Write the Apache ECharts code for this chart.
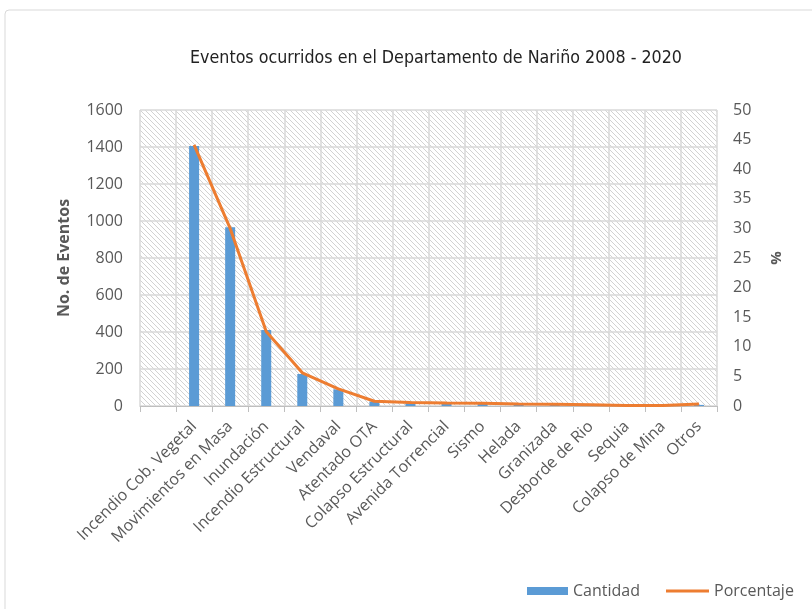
<!DOCTYPE html>
<html>
<head>
<meta charset="utf-8">
<script src="https://cdn.jsdelivr.net/npm/echarts@6/dist/echarts.min.js"></script>
<style>
html,body{margin:0;padding:0;background:#fff;}
#chart{width:812px;height:609px;}
</style>
</head>
<body>
<div id="chart"></div>
<script>
const categories = ['', 'Incendio Cob. Vegetal', 'Movimientos en Masa', 'Inundación', 'Incendio Estructural', 'Vendaval', 'Atentado OTA', 'Colapso Estructural', 'Avenida Torrencial', 'Sismo', 'Helada', 'Granizada', 'Desborde de Rio', 'Sequia', 'Colapso de Mina', 'Otros'];
const cantidad = [null, 1405, 966, 411, 173, 90, 24, 16, 14, 12, 8, 7, 5, 3, 2, 6];
const porcentaje = [null, 44.1, 30.0, 12.6, 5.6, 2.9, 0.8, 0.6, 0.5, 0.45, 0.35, 0.3, 0.2, 0.1, 0.1, 0.35];
const leftTicks = {min: 0, max: 1600, interval: 200};
const rightTicks = {min: 0, max: 50, interval: 5};

// hatch pattern for plot background
const pc = document.createElement('canvas');
pc.width = 5; pc.height = 5;
const ctx = pc.getContext('2d');
ctx.fillStyle = '#ffffff';
ctx.fillRect(0, 0, 5, 5);
ctx.strokeStyle = '#d2d2d2';
ctx.lineWidth = 1;
ctx.beginPath();
ctx.moveTo(-1, -1); ctx.lineTo(6, 6);
ctx.moveTo(-1, 4); ctx.lineTo(1, 6);
ctx.moveTo(4, -1); ctx.lineTo(6, 1);
ctx.stroke();

const chart = echarts.init(document.getElementById('chart'));
const labelColor = '#595959';
const font = '"Open Sans", sans-serif';

chart.setOption({
  animation: false,
  backgroundColor: '#fff',
  graphic: [{
    type: 'rect',
    shape: {x: 5, y: 10, width: 850, height: 640, r: 4},
    style: {fill: 'none', stroke: '#d9d9d9', lineWidth: 1},
    silent: true
  }],
  title: {
    text: 'Eventos ocurridos en el Departamento de Nariño 2008 - 2020',
    left: 431, top: 44, textAlign: 'center',
    textStyle: {fontFamily: '"DejaVu Sans Condensed", "Liberation Sans", sans-serif', fontSize: 17.7, fontWeight: 'normal', color: '#222'}
  },
  legend: [{
    left: 527, top: 583, padding: 0,
    textStyle: {fontFamily: font, fontSize: 16, color: labelColor},
    data: [{name: 'Cantidad', icon: 'rect'}],
    itemWidth: 41, itemHeight: 8
  }, {
    left: 666, top: 583, padding: 0,
    textStyle: {fontFamily: font, fontSize: 16, color: labelColor},
    data: [{name: 'Porcentaje', icon: 'rect'}],
    itemWidth: 43, itemHeight: 3
  }],
  grid: {
    left: 140, right: 95, top: 110, bottom: 203,
    show: true, borderWidth: 0,
    backgroundColor: {image: pc, repeat: 'repeat'}
  },
  xAxis: {
    type: 'category',
    data: categories,
    boundaryGap: true,
    axisLine: {lineStyle: {color: '#bfbfbf', width: 1}},
    axisTick: {show: true, length: 6, lineStyle: {color: '#bfbfbf'}},
    splitLine: {show: true, lineStyle: {color: '#d9d9d9', width: 1.5}},
    axisLabel: {interval: 0, rotate: 45, margin: 18, fontFamily: font, fontSize: 16, color: labelColor}
  },
  yAxis: [{
    type: 'value',
    min: leftTicks.min, max: leftTicks.max, interval: leftTicks.interval,
    name: 'No. de Eventos', nameLocation: 'middle', nameGap: 68, nameRotate: 90,
    nameTextStyle: {fontFamily: font, fontSize: 16, fontWeight: 'bold', color: labelColor},
    axisLine: {show: false}, axisTick: {show: false},
    splitLine: {show: true, lineStyle: {color: '#d9d9d9', width: 1.5}},
    axisLabel: {fontFamily: font, fontSize: 16, color: labelColor, margin: 17, formatter: v => String(v)}
  }, {
    type: 'value',
    min: rightTicks.min, max: rightTicks.max, interval: rightTicks.interval,
    name: '%', nameLocation: 'middle', nameGap: 52, nameRotate: 90,
    nameTextStyle: {fontFamily: font, fontSize: 15, fontWeight: 'bold', color: labelColor},
    axisLine: {show: false}, axisTick: {show: false},
    splitLine: {show: false},
    axisLabel: {fontFamily: font, fontSize: 16, color: labelColor, margin: 16}
  }],
  series: [{
    name: 'Cantidad', type: 'bar', data: cantidad, barWidth: 10,
    itemStyle: {color: '#5B9BD5'}, yAxisIndex: 0
  }, {
    name: 'Porcentaje', type: 'line', data: porcentaje, yAxisIndex: 1,
    symbol: 'none', lineStyle: {color: '#ED7D31', width: 3}, itemStyle: {color: '#ED7D31'}
  }]
});
</script>
</body>
</html>
